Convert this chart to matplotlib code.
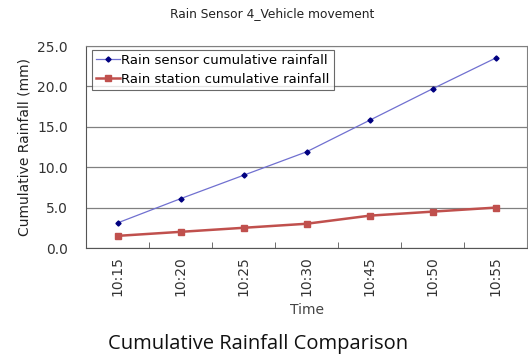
import matplotlib.pyplot as plt
import numpy as np

# Cumulative rainfall readings at each sample time
times = ["10:15", "10:20", "10:25", "10:30", "10:45", "10:50", "10:55"]
sensor_rain = [3.1, 6.1, 9.0, 11.9, 15.8, 19.7, 23.5]
station_rain = [1.5, 2.0, 2.5, 3.0, 4.0, 4.5, 5.0]
y_ticks = [0.0, 5.0, 10.0, 15.0, 20.0, 25.0]

fig = plt.figure(figsize=(5.28, 3.59), dpi=100)
ax = fig.add_axes([86 / 528, 1 - 248 / 359, 441 / 528, 202 / 359])

x = np.arange(len(times))
ax.plot(x, sensor_rain, color="#7070d0", lw=0.9, marker="D", ms=2.6,
        mfc="#000080", mec="#000080", label="Rain sensor cumulative rainfall")
ax.plot(x, station_rain, color="#c0504d", lw=1.8, marker="s", ms=5,
        mfc="#c0504d", mec="#c0504d", label="Rain station cumulative rainfall")

ax.set_xlim(-0.5, len(times) - 0.5)
ax.set_ylim(0, 25)
ax.set_yticks(y_ticks)
ax.set_yticklabels([f"{v:.1f}" for v in y_ticks], fontsize=10, color="#333333")
ax.set_xticks(x)
ax.set_xticklabels(times, rotation=90, fontsize=10, color="#333333")
ax.set_xticks(np.arange(len(times) + 1) - 0.5, minor=True)
ax.tick_params(axis="x", which="major", length=0, pad=6)
ax.tick_params(axis="x", which="minor", direction="in", length=4, color="#555555")
ax.tick_params(axis="y", length=0, pad=13)

ax.grid(axis="y", color="#808080", lw=0.9)
ax.set_axisbelow(True)
for side in ["left", "bottom"]:
    ax.spines[side].set_color("#555555")
ax.spines["top"].set_color("#808080")
ax.spines["right"].set_color("#808080")

ax.set_xlabel("Time", fontsize=10, color="#444444", labelpad=5)
ax.set_ylabel("Cumulative Rainfall (mm)", fontsize=10, color="#222222", labelpad=4)

leg = ax.legend(loc="upper left", bbox_to_anchor=(0.014, 0.98), fontsize=9.5,
                frameon=True, fancybox=False, borderpad=0.3, labelspacing=0.45,
                handlelength=1.8, handletextpad=0.1, borderaxespad=0)
leg.get_frame().set_edgecolor("#444444")
leg.get_frame().set_linewidth(0.8)

fig.text(0.515, 1 - 14 / 359, "Rain Sensor 4_Vehicle movement", ha="center",
         va="center", fontsize=8.8, color="#222222")
fig.text(0.488, 1 - 344 / 359, "Cumulative Rainfall Comparison", ha="center",
         va="center", fontsize=14.5, family="Open Sans", color="#111111")

fig.savefig("out.png", dpi=100)
